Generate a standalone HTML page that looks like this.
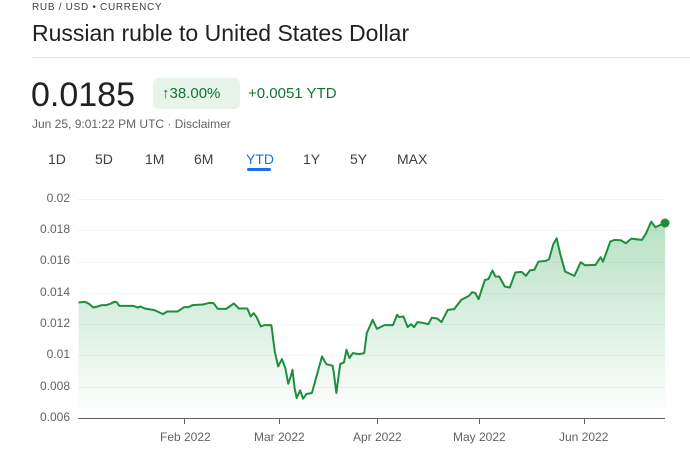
<!DOCTYPE html>
<html><head><style>
body{margin:0;width:690px;height:457px;background:#fff;font-family:"Liberation Sans",Arial,sans-serif;position:relative;overflow:hidden}
.a{position:absolute;white-space:nowrap}
.y{position:absolute;right:620px;font-size:12px;color:#5f6368;text-align:right}
.x{position:absolute;font-size:12px;color:#5f6368;top:430px}
.t{position:absolute;top:151px;font-size:14px;color:#3c4043}
</style></head><body>
<div class="a" style="left:32px;top:2px;font-size:10px;letter-spacing:0.7px;color:#3c4043">RUB / USD • CURRENCY</div>
<div class="a" style="left:32px;top:20px;font-size:23px;color:#202124">Russian ruble to United States Dollar</div>
<div class="a" style="left:32px;top:57px;width:658px;height:1px;background:#e0e0e0"></div>
<div class="a" style="left:31px;top:76px;font-size:34px;color:#202124">0.0185</div>
<div class="a" style="left:153px;top:78px;width:87px;height:31px;background:#e6f4ea;border-radius:6px"></div>
<div class="a" style="left:162px;top:85px;font-size:15px;color:#137333">↑38.00%</div>
<div class="a" style="left:248px;top:85px;font-size:15px;color:#137333">+0.0051 YTD</div>
<div class="a" style="left:32px;top:117px;font-size:12px;color:#5f6368">Jun 25, 9:01:22 PM UTC · Disclaimer</div>
<div class="t" style="left:48px">1D</div>
<div class="t" style="left:95px">5D</div>
<div class="t" style="left:145px">1M</div>
<div class="t" style="left:194px">6M</div>
<div class="t" style="left:246px;color:#1a73e8">YTD</div>
<div class="a" style="left:247px;top:168px;width:24px;height:3px;background:#1a73e8;border-radius:2px"></div>
<div class="t" style="left:303px">1Y</div>
<div class="t" style="left:350px">5Y</div>
<div class="t" style="left:397px">MAX</div>
<div class="y" style="top:191px">0.02</div>
<div class="y" style="top:222px">0.018</div>
<div class="y" style="top:253px">0.016</div>
<div class="y" style="top:285px">0.014</div>
<div class="y" style="top:316px">0.012</div>
<div class="y" style="top:347px">0.01</div>
<div class="y" style="top:379px">0.008</div>
<div class="y" style="top:410px">0.006</div>
<div class="x" style="left:160px">Feb 2022</div>
<div class="x" style="left:254px">Mar 2022</div>
<div class="x" style="left:353px">Apr 2022</div>
<div class="x" style="left:453px">May 2022</div>
<div class="x" style="left:559px">Jun 2022</div>
<svg class="a" style="left:0;top:0" width="690" height="457">
<defs><linearGradient id="g" x1="0" y1="0" x2="0" y2="1"><stop offset="0" stop-color="#34a853" stop-opacity="0.35"/><stop offset="1" stop-color="#34a853" stop-opacity="0"/></linearGradient></defs>
<g stroke="#f1f3f4" stroke-width="1">
<line x1="78" x2="665" y1="199.5" y2="199.5"/><line x1="78" x2="665" y1="230.5" y2="230.5"/><line x1="78" x2="665" y1="262.5" y2="262.5"/><line x1="78" x2="665" y1="293.5" y2="293.5"/><line x1="78" x2="665" y1="324.5" y2="324.5"/><line x1="78" x2="665" y1="355.5" y2="355.5"/><line x1="78" x2="665" y1="387.5" y2="387.5"/>
</g>
<g transform="translate(30,180.03) scale(0.422,0.3328)">
<path d="M115,368 L130,366 140,372 150,383 160,380 170,376 180,376 190,372 200,366 205,367 212,378 245,378 255,383 262,380 272,386 295,391 315,403 325,395 350,395 365,382 375,382 385,376 410,374 425,369 435,370 445,387 465,387 483,371 495,386 515,386 523,410 530,400 537,412 547,440 555,436 572,436 580,515 588,560 597,538 605,565 612,612 618,590 622,570 627,625 632,655 640,632 647,657 655,643 668,640 680,585 692,530 702,553 717,558 720,580 726,640 735,553 744,548 750,510 757,535 765,520 780,523 792,520 798,460 812,420 822,447 840,436 860,436 870,405 875,412 885,410 895,442 903,433 910,442 918,427 930,429 944,433 952,414 965,416 975,427 990,390 1005,388 1022,360 1040,348 1048,337 1055,339 1063,358 1078,300 1086,298 1096,272 1103,290 1112,290 1125,320 1137,323 1150,278 1165,276 1175,288 1185,271 1195,270 1205,245 1222,243 1230,238 1240,193 1248,175 1256,220 1268,275 1280,282 1290,288 1305,247 1315,256 1340,255 1352,232 1358,245 1375,185 1385,180 1400,181 1412,190 1425,176 1450,180 1460,160 1472,125 1482,142 1495,134 1505,128 L1505,715 L115,715 Z" fill="url(#g)"/>
<path d="M115,368 L130,366 140,372 150,383 160,380 170,376 180,376 190,372 200,366 205,367 212,378 245,378 255,383 262,380 272,386 295,391 315,403 325,395 350,395 365,382 375,382 385,376 410,374 425,369 435,370 445,387 465,387 483,371 495,386 515,386 523,410 530,400 537,412 547,440 555,436 572,436 580,515 588,560 597,538 605,565 612,612 618,590 622,570 627,625 632,655 640,632 647,657 655,643 668,640 680,585 692,530 702,553 717,558 720,580 726,640 735,553 744,548 750,510 757,535 765,520 780,523 792,520 798,460 812,420 822,447 840,436 860,436 870,405 875,412 885,410 895,442 903,433 910,442 918,427 930,429 944,433 952,414 965,416 975,427 990,390 1005,388 1022,360 1040,348 1048,337 1055,339 1063,358 1078,300 1086,298 1096,272 1103,290 1112,290 1125,320 1137,323 1150,278 1165,276 1175,288 1185,271 1195,270 1205,245 1222,243 1230,238 1240,193 1248,175 1256,220 1268,275 1280,282 1290,288 1305,247 1315,256 1340,255 1352,232 1358,245 1375,185 1385,180 1400,181 1412,190 1425,176 1450,180 1460,160 1472,125 1482,142 1495,134 1505,128" fill="none" stroke="#1e8e3e" stroke-width="2" vector-effect="non-scaling-stroke" stroke-linejoin="round"/>
</g>
<line x1="78" x2="665" y1="418.5" y2="418.5" stroke="#5f6368" stroke-width="1"/>
<g stroke="#5f6368"><line x1="184.5" x2="184.5" y1="418" y2="424"/><line x1="279.5" x2="279.5" y1="418" y2="424"/><line x1="377.5" x2="377.5" y1="418" y2="424"/><line x1="479.5" x2="479.5" y1="418" y2="424"/><line x1="584.5" x2="584.5" y1="418" y2="424"/></g>
<circle cx="665" cy="223" r="4.5" fill="#1e8e3e"/>
</svg>
</body></html>
